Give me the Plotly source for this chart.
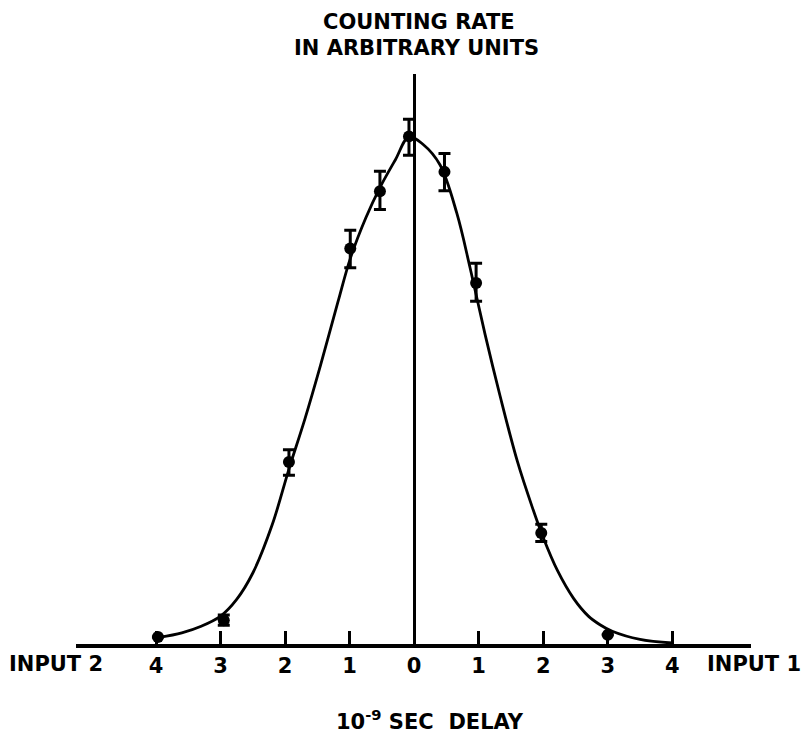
import plotly.graph_objects as go

# Measured points (delay in 1e-9 s, counting rate in arbitrary units)
delay = [-3.97, -2.95, -1.94, -0.99, -0.53, -0.08, 0.47, 0.96, 1.97, 3.0]
rate = [1.4, 4.7, 35.9, 78.0, 89.3, 100.1, 93.1, 71.2, 21.9, 1.8]
err_up = [0, 1.0, 2.4, 3.6, 3.9, 3.4, 3.6, 3.9, 1.7, 0]
err_down = [0, 1.0, 2.6, 3.8, 3.6, 3.7, 3.7, 3.6, 1.7, 0]

# Hand-drawn fitted curve
curve_delay = [-3.95, -3.6, -3.3, -3.0, -2.75, -2.5, -2.2, -1.94, -1.69, -1.45,
               -1.18, -0.99, -0.75, -0.53, -0.29, -0.08, 0.14, 0.40, 0.66, 0.87,
               1.1, 1.33, 1.6, 1.83, 2.0, 2.22, 2.47, 2.7, 2.88, 3.07, 3.5, 4.0]
curve_rate = [1.3, 2.2, 3.5, 5.5, 8.8, 14.0, 23.5, 34.5, 44.5, 55.0,
              67.5, 76.0, 84.0, 90.0, 95.5, 100.0, 98.5, 94.5, 85.0, 74.0,
              61.0, 49.0, 36.0, 27.0, 21.0, 14.5, 9.0, 5.5, 3.8, 2.5, 0.9, 0.2]

tick_vals = [-4, -3, -2, -1, 0, 1, 2, 3, 4]
tick_text = ["4", "3", "2", "1", "0", "1", "2", "3", "4"]

FONT = "DejaVu Sans"

fig = go.Figure()
fig.add_trace(go.Scatter(
    x=curve_delay, y=curve_rate, mode="lines",
    line=dict(color="black", width=2.8, shape="spline", smoothing=1.0),
    hoverinfo="skip"))
fig.add_trace(go.Scatter(
    x=delay, y=rate, mode="markers",
    marker=dict(color="black", size=12),
    error_y=dict(type="data", symmetric=False, array=err_up, arrayminus=err_down,
                 color="black", thickness=3, width=6)))

fig.update_layout(
    width=812, height=736,
    margin=dict(l=76, r=61, t=74, b=92),
    plot_bgcolor="white", paper_bgcolor="white",
    showlegend=False,
    font=dict(family=FONT, color="black", size=20),
)
fig.update_xaxes(
    range=[-5.24, 5.22], tickvals=tick_vals, ticktext=tick_text,
    ticks="inside", ticklen=13, tickwidth=3, tickcolor="black",
    showline=True, linewidth=4, linecolor="black", showgrid=False,
    zeroline=True, zerolinecolor="black", zerolinewidth=3,
    tickfont=dict(family=FONT, size=21, color="black", weight="bold"),
)
fig.update_yaxes(range=[0, 112.4], visible=False)

ann = [
    dict(text="COUNTING RATE", x=0.508, y=1.091),
    dict(text="IN ARBITRARY UNITS", x=0.504, y=1.0456),
    dict(text="INPUT 2", x=-0.0296, y=-0.035),
    dict(text="INPUT 1", x=1.0044, y=-0.035),
    dict(text="10<sup>-9</sup> SEC\u00a0\u00a0DELAY", x=0.524, y=-0.133),
]
for a in ann:
    fig.add_annotation(xref="paper", yref="paper", showarrow=False,
                       xanchor="center", yanchor="middle",
                       font=dict(family=FONT, size=21, color="black", weight="bold"), **a)

fig.write_html("out.html")
